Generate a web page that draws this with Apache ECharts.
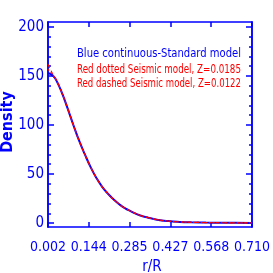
<!DOCTYPE html>
<html><head><meta charset="utf-8">
<script src="https://cdn.jsdelivr.net/npm/echarts@6/dist/echarts.min.js"></script>
<style>html,body{margin:0;padding:0;background:#fff}#c{width:273px;height:273px}</style>
</head><body><div id="c"></div>
<script>
// r/R sample points
const radius = [0.002,0.01,0.02,0.03,0.05,0.07,0.09,0.11,0.13,0.15,0.17,0.19,0.21,0.23,0.25,0.27,0.29,0.32,0.35,0.38,0.42,0.46,0.50,0.55,0.60,0.65,0.71];
// Standard model density (blue continuous)
const standardModel = [153,152,150,146,133,117,100,84,70,57,46,37,30,24,19,15,12,8,5.5,3.5,2,1.2,0.8,0.5,0.35,0.25,0.2];
// Seismic model Z=0.0185 (red dotted)
const seismic0185 = [157,154,150.5,146,133,117,100,84,70,57,46,37,30,24,19,15,12,8,5.5,3.5,2,1.2,0.8,0.5,0.35,0.25,0.2];
// Seismic model Z=0.0122 (red dashed)
const seismic0122 = [162,157,151,146.5,133,117,100,84,70,57,46,37,30,24,19,15,12,8,5.5,3.5,2,1.2,0.8,0.5,0.35,0.25,0.2];
const xTicks = [0.002,0.1436,0.2852,0.4268,0.5684,0.710];
const yTicks = [0,50,100,150,200];
const yMinorTicks = [0,10,20,30,40,50,60,70,80,90,100,110,120,130,140,150,160,170,180,190,200];
const legendLines = ['Blue continuous-Standard model','Red dotted Seismic model, Z=0.0185','Red dashed Seismic model, Z=0.0122'];

const BLUE = '#0000ff', RED = '#ff0000';
const FONT = '"DejaVu Sans Condensed", "DejaVu Sans", sans-serif';
const pair = a => radius.map((r,i)=>[r,a[i]]);
const yMin = -4, yMax = 205;

const ctx = document.createElement('canvas').getContext('2d');
const LEG_FONT = '12px ' + FONT;
ctx.font = LEG_FONT;
const LEG_W = 164;
const fit = t => LEG_W / ctx.measureText(t).width;

function yAx(pos, ticks, len, labels){
  return {type:'value', position:pos, min:yMin, max:yMax, offset:0,
    axisLine:{show:true, lineStyle:{color:BLUE, width:1.5}},
    axisTick:{show:true, inside:true, length:len, customValues:ticks, lineStyle:{color:BLUE, width:1.5}},
    axisLabel:{show:labels, customValues:yTicks, color:BLUE, fontFamily:FONT, fontSize:15, margin:4},
    splitLine:{show:false}};
}
function xAx(pos, labels){
  return {type:'value', position:pos, min:0.002, max:0.710,
    axisLine:{show:true, onZero:false, lineStyle:{color:BLUE, width:1.5}},
    axisTick:{show:true, inside:true, length:5, customValues:xTicks, lineStyle:{color:BLUE, width:1.5}},
    axisLabel:{show:labels, customValues:xTicks, color:BLUE, fontFamily:FONT, fontSize:14, margin:13,
      formatter:v=>v.toFixed(3)},
    splitLine:{show:false}};
}

const chart = echarts.init(document.getElementById('c'), null, {renderer:'canvas'});
chart.setOption({
  animation:false,
  backgroundColor:'#fff',
  grid:{left:48, right:15, top:22, bottom:46},
  xAxis:[xAx('bottom', true), xAx('top', false)],
  yAxis:[yAx('left', yTicks, 6, true), yAx('left', yMinorTicks, 3, false),
         yAx('right', yTicks, 6, false), yAx('right', yMinorTicks, 3, false)],
  series:[
    {type:'line', data:pair(standardModel), xAxisIndex:0, yAxisIndex:0, smooth:true, showSymbol:false,
      lineStyle:{color:BLUE, width:2}},
    {type:'line', data:pair(seismic0185), xAxisIndex:0, yAxisIndex:0, smooth:true, showSymbol:false,
      lineStyle:{color:RED, width:1.2, type:[2,2]}},
    {type:'line', data:pair(seismic0122), xAxisIndex:0, yAxisIndex:0, smooth:true, showSymbol:false,
      lineStyle:{color:RED, width:1.2, type:[4,3]}}
  ],
  graphic:[
    {type:'text', left:77, top:48, scaleX:fit(legendLines[0]), style:{text:legendLines[0], fill:BLUE, font:LEG_FONT}},
    {type:'text', left:77, top:64, scaleX:fit(legendLines[1]), style:{text:legendLines[1], fill:RED, font:LEG_FONT}},
    {type:'text', left:77, top:78, scaleX:fit(legendLines[2]), style:{text:legendLines[2], fill:RED, font:LEG_FONT}},
    {type:'text', x:152, y:260, style:{text:'r/R', fill:BLUE, font:'15px '+FONT, align:'center', verticalAlign:'top'}},
    {type:'text', x:8, y:122, rotation:Math.PI/2, style:{text:'Density', fill:BLUE, font:'bold 16px '+FONT, align:'center', verticalAlign:'middle'}}
  ]
});
</script></body></html>
